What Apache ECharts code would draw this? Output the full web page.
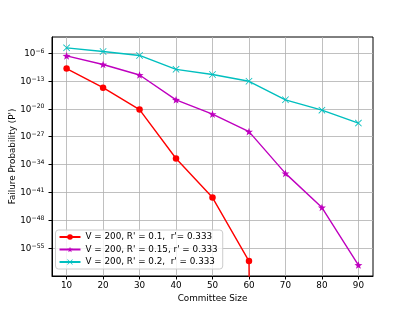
<!DOCTYPE html>
<html><head><meta charset="utf-8">
<script src="https://cdn.jsdelivr.net/npm/echarts@6/dist/echarts.min.js"></script>
<style>html,body{margin:0;padding:0;background:#fff}#c{width:415px;height:311px}</style>
</head><body><div id="c"></div>
<script>
// Committee sizes
const committeeSizes = [10, 20, 30, 40, 50, 60, 70, 80, 90];
// Failure probabilities (0 = underflow, drawn clipped like matplotlib)
const redValues = [1.3e-10, 2e-15, 6.3e-21, 3.2e-33, 5e-43, 5.6e-59, 0];
const purpleValues = [2e-7, 1.3e-9, 3e-12, 1.8e-18, 4.5e-22, 1.8e-26, 6e-37, 1.6e-45, 5.6e-60];
const cyanValues = [2e-5, 2.5e-6, 2.5e-7, 8e-11, 4e-12, 8e-14, 1.8e-18, 4.5e-21, 2.5e-24];
const seriesNames = [
  "V = 200, R' = 0.1,  r'= 0.333",
  "V = 200, R' = 0.15, r' = 0.333",
  "V = 200, R' = 0.2,  r' = 0.333"
];
const yTickExponents = [-55, -48, -41, -34, -27, -20, -13, -6];
const xTicks = [10, 20, 30, 40, 50, 60, 70, 80, 90];

const FONT = 'DejaVu Sans';
const FS = 8.8;
const toLog = v => v > 0 ? Math.log10(v) : -1000;
const mk = vals => vals.map((v, i) => [committeeSizes[i], toLog(v)]);

const starPath = 'path://M0,-10 L2.35,-3.24 L9.51,-3.09 L3.8,1.24 L5.88,8.09 L0,4 L-5.88,8.09 L-3.8,1.24 L-9.51,-3.09 L-2.35,-3.24 Z';
const xPath = 'path://M-5,-4.2 L-4.2,-5 L0,-0.8 L4.2,-5 L5,-4.2 L0.8,0 L5,4.2 L4.2,5 L0,0.8 L-4.2,5 L-5,4.2 L-0.8,0 Z';

const chart = echarts.init(document.getElementById('c'), null, {renderer: 'canvas'});
chart.setOption({
  animation: false,
  backgroundColor: '#fff',
  textStyle: {fontFamily: FONT},
  grid: {left: 52, right: 42, top: 37, bottom: 35, containLabel: false, outerBoundsMode: 'none',
         show: true, borderColor: '#000', borderWidth: 1, backgroundColor: 'transparent'},
  legend: {
    orient: 'vertical', left: 55.5, top: 230,
    itemWidth: 21, itemHeight: 7, itemGap: 3.5,
    padding: [2.5, 5, 2.5, 3],
    backgroundColor: 'rgba(255,255,255,0.8)', borderColor: '#cccccc', borderWidth: 1, borderRadius: 3,
    textStyle: {fontFamily: FONT, fontSize: FS, color: '#000'},
    data: seriesNames
  },
  xAxis: {
    type: 'value', min: 6, max: 94, splitNumber: 9,
    name: 'Committee Size', nameLocation: 'middle', nameGap: 18, nameMoveOverlap: false,
    nameTextStyle: {fontFamily: FONT, fontSize: FS, color: '#000'},
    axisLine: {show: true, lineStyle: {color: '#000', width: 1}},
    axisTick: {show: true, length: 3.5, lineStyle: {color: '#000'}, customValues: xTicks},
    axisLabel: {color: '#000', fontFamily: FONT, fontSize: FS, margin: 5.5, customValues: xTicks,
      formatter: v => (Math.abs(v % 10) < 1e-6 && v >= 10 && v <= 90) ? String(v) : ''},
    splitLine: {show: true, lineStyle: {color: '#b0b0b0', width: 0.8}}
  },
  yAxis: {
    type: 'value', min: -62, max: -1.97, interval: 7,
    name: "Failure Probability (P')", nameLocation: 'middle', nameGap: 35, nameMoveOverlap: false,
    nameTextStyle: {fontFamily: FONT, fontSize: FS, color: '#000'},
    axisLine: {show: true, lineStyle: {color: '#000', width: 1}},
    axisTick: {show: true, length: 3.5, lineStyle: {color: '#000'}, customValues: yTickExponents},
    axisLabel: {
      color: '#000', fontFamily: FONT, margin: 7.5, customValues: yTickExponents,
      formatter: v => {
        const r = Math.round(v);
        if (Math.abs(v - r) > 1e-6 || yTickExponents.indexOf(r) < 0) return '';
        return '{b|10}{s|\u2212' + (-r) + '}';
      },
      rich: {
        b: {fontFamily: FONT, fontSize: FS, color: '#000', verticalAlign: 'bottom'},
        s: {fontFamily: FONT, fontSize: 6.2, color: '#000', verticalAlign: 'bottom', padding: [0, 0, 4, 0]}
      }
    },
    splitLine: {show: true, lineStyle: {color: '#b0b0b0', width: 0.8}}
  },
  series: [
    {name: seriesNames[0], type: 'line', data: mk(redValues), clip: true,
     symbol: 'circle', symbolSize: 6.5, color: '#ff0000',
     lineStyle: {color: '#ff0000', width: 1.4}, itemStyle: {color: '#ff0000'}},
    {name: seriesNames[1], type: 'line', data: mk(purpleValues), clip: true,
     symbol: starPath, symbolSize: 8, symbolKeepAspect: true, color: '#bf00bf',
     lineStyle: {color: '#bf00bf', width: 1.4}, itemStyle: {color: '#bf00bf'}},
    {name: seriesNames[2], type: 'line', data: mk(cyanValues), clip: true,
     symbol: xPath, symbolSize: 7, symbolKeepAspect: true, color: '#00bfbf',
     lineStyle: {color: '#00bfbf', width: 1.4}, itemStyle: {color: '#00bfbf'}}
  ]
});
</script>
</body></html>
